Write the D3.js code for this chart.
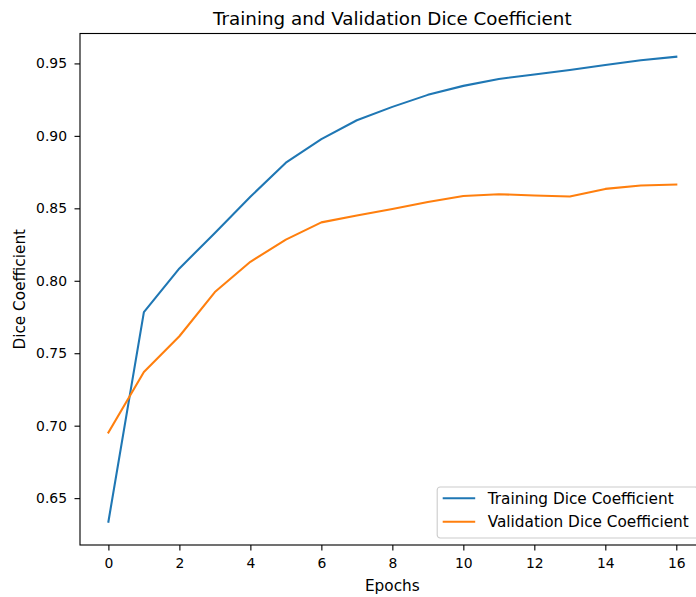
<!DOCTYPE html>
<html>
<head>
<meta charset="utf-8">
<script src="https://cdn.jsdelivr.net/npm/d3@7"></script>
<style>
  html, body { margin: 0; padding: 0; background: #fff; }
  svg { display: block; font-family: "DejaVu Sans", sans-serif; }
</style>
</head>
<body>
<svg id="chart" width="696" height="597"></svg>
<script>
const epochs = [0, 1, 2, 3, 4, 5, 6, 7, 8, 9, 10, 11, 12, 13, 14, 15, 16];
const trainingDice = [0.6337, 0.7784, 0.8085, 0.8330, 0.8580, 0.8815, 0.8978, 0.9108, 0.9200, 0.9283, 0.9345, 0.9393, 0.9423, 0.9455, 0.9489, 0.9522, 0.9546];
const validationDice = [0.6953, 0.7370, 0.7617, 0.7922, 0.8131, 0.8284, 0.8403, 0.8451, 0.8496, 0.8543, 0.8585, 0.8597, 0.8589, 0.8581, 0.8634, 0.8657, 0.8664];
const xTicks = [0, 2, 4, 6, 8, 10, 12, 14, 16];
const yTicks = [0.65, 0.70, 0.75, 0.80, 0.85, 0.90, 0.95];
const seriesNames = ["Training Dice Coefficient", "Validation Dice Coefficient"];
const seriesColors = ["#1f77b4", "#ff7f0e"];
const titleText = "Training and Validation Dice Coefficient";
const xLabel = "Epochs";
const yLabel = "Dice Coefficient";

(function () {
const svg = d3.select("#chart");
const mLeft = 80, mRight = 704.7, mTop = 33.5, mBottom = 545;

const xMin = d3.min(epochs), xMax = d3.max(epochs);
const xPad = (xMax - xMin) * 0.05;
const x = d3.scaleLinear().domain([xMin - xPad, xMax + xPad]).range([mLeft, mRight]);

const allY = trainingDice.concat(validationDice);
const yMin = d3.min(allY), yMax = d3.max(allY);
const yPad = (yMax - yMin) * 0.05;
const y = d3.scaleLinear().domain([yMin - yPad, yMax + yPad]).range([mBottom, mTop]);

const tickLen = 5.5, tickFont = 13.9, labelFont = 15.3;

// Lines
const series = [trainingDice, validationDice];
const line = d3.line().x((d, i) => x(epochs[i])).y(d => y(d));
series.forEach((s, k) => {
  svg.append("path")
    .datum(s)
    .attr("fill", "none")
    .attr("stroke", seriesColors[k])
    .attr("stroke-width", 2.08)
    .attr("stroke-linejoin", "round")
    .attr("stroke-linecap", "square")
    .attr("d", line);
});

// Axes
const xAxis = svg.append("g")
  .attr("transform", `translate(0,${mBottom})`)
  .call(d3.axisBottom(x).tickValues(xTicks).tickFormat(d3.format("d")).tickSize(tickLen).tickPadding(8));
const yAxis = svg.append("g")
  .attr("transform", `translate(${mLeft},0)`)
  .call(d3.axisLeft(y).tickValues(yTicks).tickFormat(d3.format(".2f")).tickSize(tickLen).tickPadding(7.5));
[xAxis, yAxis].forEach(g => {
  g.select(".domain").remove();
  g.selectAll(".tick line").attr("stroke", "#000").attr("stroke-width", 1.11);
  g.selectAll(".tick text").attr("fill", "#000").style("font-size", tickFont + "px").style("font-family", "DejaVu Sans");
});

// Spines
svg.append("rect")
  .attr("x", mLeft).attr("y", mTop)
  .attr("width", mRight - mLeft).attr("height", mBottom - mTop)
  .attr("fill", "none").attr("stroke", "#000").attr("stroke-width", 1.11);

// Title
svg.append("text")
  .attr("x", (mLeft + mRight) / 2).attr("y", mTop - 8.5)
  .attr("text-anchor", "middle")
  .style("font-size", "18.3px")
  .attr("fill", "#000")
  .text(titleText);

// Axis labels
svg.append("text")
  .attr("x", (mLeft + mRight) / 2).attr("y", 591)
  .attr("text-anchor", "middle")
  .style("font-size", labelFont + "px")
  .attr("fill", "#000")
  .text(xLabel);
svg.append("text")
  .attr("transform", `translate(24.5,${(mTop + mBottom) / 2}) rotate(-90)`)
  .attr("text-anchor", "middle")
  .style("font-size", labelFont + "px")
  .attr("fill", "#000")
  .text(yLabel);

// Legend
const legW = 260.5, legH = 51;
const legX = mRight - 7 - legW, legY = mBottom - 7 - legH;
const leg = svg.append("g").attr("transform", `translate(${legX},${legY})`);
leg.append("rect")
  .attr("width", legW).attr("height", legH)
  .attr("rx", 3).attr("ry", 3)
  .attr("fill", "#fff").attr("fill-opacity", 0.8)
  .attr("stroke", "#cccccc").attr("stroke-width", 1.11);
seriesNames.forEach((name, k) => {
  const cy = 11.3 + k * 23.4;
  leg.append("line")
    .attr("x1", 5.5).attr("x2", 38)
    .attr("y1", cy).attr("y2", cy)
    .attr("stroke", seriesColors[k]).attr("stroke-width", 2.08);
  leg.append("text")
    .attr("x", 50.5).attr("y", cy + 5.5)
    .style("font-size", labelFont + "px")
    .attr("fill", "#000")
    .text(name);
});
})();
</script>
</body>
</html>
